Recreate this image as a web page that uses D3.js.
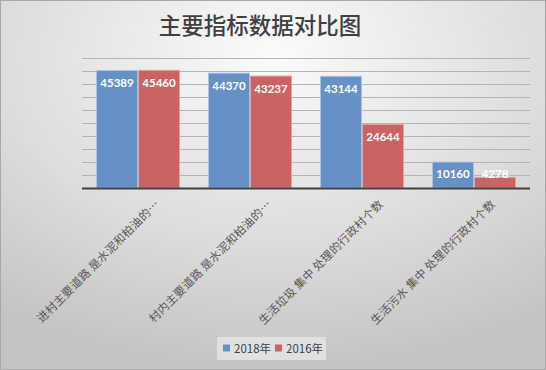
<!DOCTYPE html>
<html>
<head>
<meta charset="utf-8">
<script src="https://cdn.jsdelivr.net/npm/d3@7"></script>
<style>
  html, body { margin: 0; padding: 0; background: #fff; }
  svg { display: block; }
</style>
</head>
<body>
<div id="root"></div>
<script>
const categories = [
  "进村主要道路 是水泥和柏油的…",
  "村内主要道路 是水泥和柏油的…",
  "生活垃圾 集中 处理的行政村个数",
  "生活污水 集中 处理的行政村个数"
];
const seriesNames = ["2018年", "2016年"];
const values2018 = [45389, 44370, 43144, 10160];
const values2016 = [45460, 43237, 24644, 4278];
const yTicks = [0, 5000, 10000, 15000, 20000, 25000, 30000, 35000, 40000, 45000, 50000];

const width = 546;
const height = 370;
const colors = ["#6591c6", "#c96462"];
const strokes = ["#a9c2e3", "#e3a3a2"];

const svg = d3
  .select("#root")
  .append("svg")
  .attr("width", width)
  .attr("height", height)
  .attr("viewBox", [0, 0, width, height]);

// background gradient
const defs = svg.append("defs");
const grad = defs
  .append("radialGradient")
  .attr("id", "bg")
  .attr("cx", "50%")
  .attr("cy", "15%")
  .attr("r", "85%");
grad.append("stop").attr("offset", "0%").attr("stop-color", "#fbfbfb");
grad.append("stop").attr("offset", "60%").attr("stop-color", "#dcdcdc");
grad.append("stop").attr("offset", "100%").attr("stop-color", "#c4c4c4");

svg
  .append("rect")
  .attr("x", 0.5)
  .attr("y", 0.5)
  .attr("width", width - 1)
  .attr("height", height - 1)
  .attr("fill", "url(#bg)")
  .attr("stroke", "#a8a8a8");

// scales
const plotLeft = 82;
const plotRight = 530;
const plotTop = 58;
const plotBottom = 188;

const x = d3
  .scaleBand()
  .domain(categories)
  .range([plotLeft, plotRight])
  .paddingInner(0.25)
  .paddingOuter(0.125);

const xSeries = d3
  .scaleBand()
  .domain(seriesNames)
  .range([0, x.bandwidth()]);

const y = d3.scaleLinear().domain([0, 50000]).range([plotBottom, plotTop]);

// gridlines
svg
  .append("g")
  .selectAll("line")
  .data(yTicks.slice(1))
  .join("line")
  .attr("x1", plotLeft)
  .attr("x2", plotRight)
  .attr("y1", (d) => Math.round(y(d)) + 0.5)
  .attr("y2", (d) => Math.round(y(d)) + 0.5)
  .attr("stroke", "#b4b4b4")
  .attr("stroke-width", 1);

// bars
const rows = categories.map((c, i) => ({
  category: c,
  vals: [
    { name: seriesNames[0], value: values2018[i], idx: 0 },
    { name: seriesNames[1], value: values2016[i], idx: 1 }
  ]
}));

const group = svg
  .append("g")
  .selectAll("g")
  .data(rows)
  .join("g")
  .attr("transform", (d) => `translate(${x(d.category)},0)`);

group
  .selectAll("rect")
  .data((d) => d.vals)
  .join("rect")
  .attr("x", (d) => xSeries(d.name) + 0.5)
  .attr("y", (d) => y(d.value) + 0.5)
  .attr("width", xSeries.bandwidth() - 1)
  .attr("height", (d) => plotBottom - y(d.value) - 0.5)
  .attr("fill", (d) => colors[d.idx])
  .attr("stroke", (d) => strokes[d.idx])
  .attr("stroke-width", 1);

// data labels (inside end)
group
  .selectAll("text")
  .data((d) => d.vals)
  .join("text")
  .attr("x", (d) => xSeries(d.name) + xSeries.bandwidth() / 2)
  .attr("y", (d) => Math.min(y(d.value) + 13.5, plotBottom - 14) + 4)
  .attr("text-anchor", "middle")
  .attr("fill", "#ffffff")
  .attr("font-family", "Lato, 'Open Sans', sans-serif")
  .attr("font-weight", "bold")
  .attr("font-size", 11.5)
  .text((d) => d.value);

// baseline axis
svg
  .append("line")
  .attr("x1", plotLeft)
  .attr("x2", plotRight)
  .attr("y1", plotBottom + 0.5)
  .attr("y2", plotBottom + 0.5)
  .attr("stroke", "#404040")
  .attr("stroke-width", 2);

// category labels, rotated
svg
  .append("g")
  .selectAll("text")
  .data(categories)
  .join("text")
  .attr("transform", (d) => {
    const cx = x(d) + x.bandwidth() / 2 + 22;
    return `translate(${cx},205) rotate(-45)`;
  })
  .attr("text-anchor", "end")
  .attr("fill", "#595959")
  .attr("font-family", "'Noto Sans CJK SC', sans-serif")
  .attr("font-size", 11.5)
  .attr("letter-spacing", 0.25)
  .text((d) => d);

// title
svg
  .append("text")
  .attr("x", 260)
  .attr("y", 34)
  .attr("text-anchor", "middle")
  .attr("fill", "#404040")
  .attr("font-family", "'Noto Sans CJK SC', sans-serif")
  .attr("font-weight", 500)
  .attr("font-size", 22.5)
  .text("主要指标数据对比图");

// legend
const legend = svg.append("g").attr("transform", "translate(217,337)");
legend
  .append("rect")
  .attr("width", 109)
  .attr("height", 23)
  .attr("fill", "#e6e6e6")
  .attr("fill-opacity", 0.8);

const legendItem = legend
  .selectAll("g")
  .data(seriesNames)
  .join("g")
  .attr("transform", (d, i) => `translate(${6 + i * 52},0)`);

legendItem
  .append("rect")
  .attr("y", 7.5)
  .attr("width", 7)
  .attr("height", 7)
  .attr("fill", (d, i) => colors[i]);

legendItem
  .append("text")
  .attr("x", 11)
  .attr("y", 15.5)
  .attr("fill", "#404040")
  .attr("font-family", "'Noto Sans CJK SC', sans-serif")
  .attr("font-size", 11.5)
  .text((d) => d);
</script>
</body>
</html>
